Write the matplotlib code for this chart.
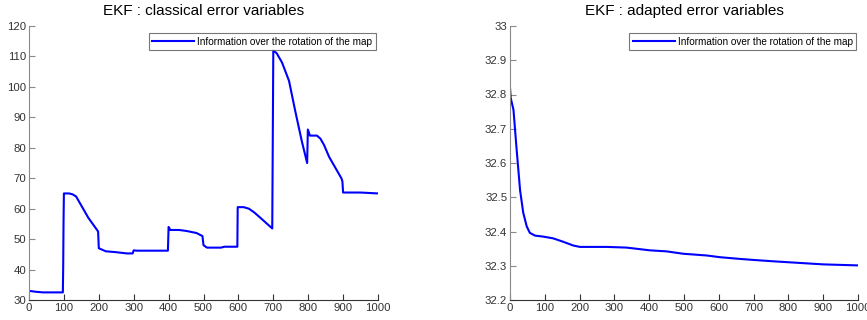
import numpy as np
import matplotlib.pyplot as plt

plt.rcParams['font.family'] = ['Liberation Sans', 'DejaVu Sans']

# --- data ---
# left: classical error variables
x_classic = [0, 20, 40, 97, 98, 99, 100, 115, 125, 135, 150, 170, 195, 198, 200, 220, 250,
             280, 297, 300, 310, 398, 400, 405, 430, 450, 480, 497, 500, 510, 550,
             560, 597, 598, 615, 630, 645, 660, 697, 700, 710, 725, 745, 763, 782, 797,
             799, 805, 825, 835, 845, 860, 895, 898, 900, 950, 1000]
y_classic = [33, 32.7, 32.5, 32.5, 41, 56, 65, 65, 64.7, 64, 61, 57, 53, 52.5, 47, 46, 45.7,
             45.3, 45.3, 46.3, 46.2, 46.2, 54, 53, 53, 52.7, 52, 51, 48, 47.2, 47.2,
             47.5, 47.5, 60.5, 60.5, 60, 58.8, 57.3, 53.5, 112, 111, 108, 102, 92, 82, 75,
             86, 84, 84, 83, 81, 77, 70, 69, 65.3, 65.3, 65]

# right: adapted error variables
x_adapt = [0, 2, 10, 19, 29, 38, 48, 57, 72, 96, 124, 153, 182, 201, 278, 335, 402,
           450, 498, 565, 603, 660, 699, 756, 804, 852, 900, 1000]
y_adapt = [32.82, 32.79, 32.755, 32.64, 32.52, 32.455, 32.415, 32.396, 32.388, 32.385,
           32.38, 32.37, 32.359, 32.355, 32.355, 32.353, 32.345, 32.342, 32.335, 32.33,
           32.325, 32.32, 32.317, 32.313, 32.31, 32.307, 32.304, 32.301]

titles = ['EKF : classical error variables', 'EKF : adapted error variables']
legend_label = 'Information over the rotation of the map'

fig = plt.figure(figsize=(8.67, 3.2), dpi=100)
ax1 = fig.add_axes([29 / 867, 20 / 320, 349 / 867, 274 / 320])
ax2 = fig.add_axes([510 / 867, 20 / 320, 348 / 867, 274 / 320])

panels = [(ax1, x_classic, y_classic, (30, 120), np.arange(30, 121, 10)),
          (ax2, x_adapt, y_adapt, (32.2, 33), np.arange(32.2, 33.01, 0.1))]

for i, (ax, xs, ys, ylim, yt) in enumerate(panels):
    ax.plot(xs, ys, color='#0000ff', lw=1.5, label=legend_label)
    ax.set_xlim(0, 1000)
    ax.set_ylim(*ylim)
    ax.set_xticks(np.arange(0, 1001, 100))
    ax.set_yticks(yt)
    ax.set_yticklabels(['%g' % round(v, 1) for v in yt])
    for s in ['top', 'right']:
        ax.spines[s].set_visible(False)
    ax.spines['left'].set_color('#8a8a8a')
    ax.spines['bottom'].set_color('#333333')
    ax.tick_params(direction='in', length=4, width=0.8, colors='#333333',
                   labelsize=8.2, pad=2)
    ax.tick_params(axis='y', colors='#8a8a8a', labelcolor='#333333')
    ax.set_title(titles[i], fontsize=11, pad=8, color='#000000')
    leg = ax.legend(loc='upper right', bbox_to_anchor=(1.0, 0.98), fontsize=7.2,
                    frameon=True, fancybox=False, borderpad=0.35, handlelength=4.2,
                    handletextpad=0.3, borderaxespad=0.2)
    leg.get_frame().set_edgecolor('#555555')
    leg.get_frame().set_linewidth(0.8)

fig.savefig('out.png', dpi=100)
